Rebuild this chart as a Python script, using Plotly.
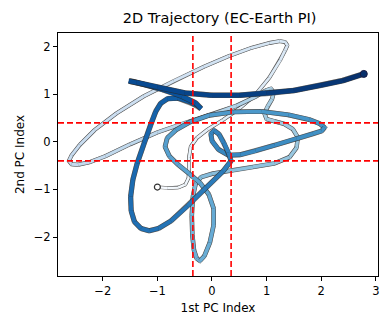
import plotly.graph_objects as go
from plotly.colors import sample_colorscale, sequential

# Trajectory in the space of the first two principal components (PC1, PC2),
# with the normalised time of each sample (0 = first year, 1 = last year).
pc1 = [
    -1.00, -0.82, -0.62, -0.49, -0.43, -0.42, -0.42, -0.39, -0.28, -0.08,
    0.20, 0.50, 0.80, 1.05, 1.25, 1.34, 1.38, 1.34, 1.24, 1.05,
    0.70, 0.30, -0.15, -0.70, -1.25, -1.75, -2.15, -2.42, -2.57, -2.62,
    -2.57, -2.45, -2.25, -1.95, -1.50, -1.00, -0.50, 0.00, 0.45, 0.80,
    0.98, 1.08, 1.13, 1.10, 1.02, 0.96, 1.00, 1.15, 1.32, 1.48,
    1.57, 1.55, 1.42, 1.15, 0.75, 0.35, 0.00, -0.20, -0.30, -0.35,
    -0.37, -0.36, -0.33, -0.28, -0.22, -0.14, -0.04, 0.03, 0.03, -0.06,
    -0.22, -0.42, -0.62, -0.78, -0.86, -0.82, -0.66, -0.40, -0.05, 0.40,
    0.90, 1.40, 1.78, 1.98, 2.06, 2.01, 1.85, 1.55, 1.15, 0.80,
    0.52, 0.30, 0.12, 0.00, -0.02, 0.04, 0.13, 0.22, 0.30, 0.35,
    0.20, -0.10, -0.45, -0.75, -0.98, -1.15, -1.30, -1.42, -1.48, -1.49,
    -1.45, -1.37, -1.24, -1.12, -1.03, -0.94, -0.81, -0.62, -0.40, -0.26,
    -0.20, -0.30, -0.55, -0.90, -1.25, -1.47, -1.52, -1.38, -1.00, -0.50,
    0.00, 0.50, 1.00, 1.50, 2.00, 2.40, 2.78,
]
pc2 = [
    -0.95, -0.97, -0.96, -0.90, -0.76, -0.55, -0.32, -0.10, 0.08, 0.26,
    0.46, 0.70, 1.00, 1.35, 1.72, 1.92, 2.03, 2.10, 2.12, 2.08,
    1.97, 1.80, 1.58, 1.28, 0.96, 0.60, 0.25, -0.06, -0.28, -0.40,
    -0.47, -0.48, -0.43, -0.30, -0.05, 0.20, 0.40, 0.58, 0.76, 0.95,
    1.08, 1.12, 1.04, 0.90, 0.75, 0.60, 0.48, 0.43, 0.38, 0.27,
    0.10, -0.12, -0.32, -0.45, -0.53, -0.60, -0.67, -0.74, -0.88, -1.15,
    -1.55, -1.95, -2.28, -2.45, -2.50, -2.40, -2.12, -1.75, -1.40, -1.10,
    -0.86, -0.66, -0.48, -0.30, -0.10, 0.08, 0.25, 0.42, 0.56, 0.63,
    0.64, 0.57, 0.47, 0.38, 0.30, 0.23, 0.17, 0.07, -0.07, -0.19,
    -0.27, -0.28, -0.16, 0.02, 0.17, 0.24, 0.16, -0.02, -0.22, -0.40,
    -0.62, -0.95, -1.35, -1.66, -1.82, -1.87, -1.82, -1.68, -1.45, -1.15,
    -0.80, -0.45, -0.02, 0.38, 0.64, 0.81, 0.91, 0.92, 0.84, 0.76,
    0.70, 0.82, 0.96, 1.10, 1.21, 1.28, 1.28, 1.25, 1.15, 1.03,
    0.98, 0.98, 1.02, 1.08, 1.19, 1.29, 1.43,
]
time_frac = [
    0.000, 0.010, 0.020, 0.030, 0.040, 0.050, 0.060, 0.070, 0.080, 0.090,
    0.100, 0.110, 0.120, 0.130, 0.140, 0.145, 0.150, 0.155, 0.158, 0.162,
    0.170, 0.180, 0.190, 0.200, 0.210, 0.220, 0.230, 0.237, 0.242, 0.245,
    0.248, 0.251, 0.255, 0.260, 0.270, 0.280, 0.290, 0.300, 0.310, 0.320,
    0.328, 0.333, 0.338, 0.342, 0.346, 0.350, 0.354, 0.358, 0.364, 0.370,
    0.378, 0.386, 0.394, 0.402, 0.412, 0.422, 0.432, 0.440, 0.448, 0.456,
    0.466, 0.476, 0.486, 0.492, 0.497, 0.502, 0.508, 0.515, 0.522, 0.530,
    0.538, 0.546, 0.552, 0.558, 0.563, 0.568, 0.574, 0.580, 0.586, 0.593,
    0.600, 0.608, 0.615, 0.620, 0.624, 0.628, 0.633, 0.640, 0.647, 0.654,
    0.660, 0.664, 0.668, 0.672, 0.676, 0.680, 0.684, 0.688, 0.693, 0.698,
    0.706, 0.716, 0.726, 0.736, 0.743, 0.748, 0.753, 0.758, 0.764, 0.770,
    0.777, 0.784, 0.792, 0.800, 0.807, 0.813, 0.820, 0.828, 0.838, 0.846,
    0.850, 0.856, 0.865, 0.875, 0.885, 0.892, 0.895, 0.900, 0.910, 0.920,
    0.930, 0.940, 0.950, 0.960, 0.970, 0.985, 1.000,
]

# Threshold lines separating the phase regions
x_thresholds = [-0.35, 0.35]
y_thresholds = [-0.4, 0.4]

fig = go.Figure()

n = len(pc1)
for i in range(n - 1):
    j = min(i + 3, n)
    xs = pc1[i:j]
    ys = pc2[i:j]
    t = 0.5 * (time_frac[i] + time_frac[i + 1])
    col = sample_colorscale(sequential.Blues, [t])[0]
    w = 2.3 + 2.2 * t
    # thin dark edge first, then the coloured stroke on top
    fig.add_trace(go.Scatter(x=xs, y=ys, mode="lines",
                             line=dict(color="rgba(40,40,40,0.55)", width=w + 1.2),
                             hoverinfo="skip", showlegend=False))
    fig.add_trace(go.Scatter(x=xs, y=ys, mode="lines",
                             line=dict(color=col, width=w),
                             hoverinfo="skip", showlegend=False))

# start and end markers
fig.add_trace(go.Scatter(x=[pc1[0]], y=[pc2[0]], mode="markers",
                         marker=dict(size=6, color="white",
                                     line=dict(color="#333333", width=1.2)),
                         showlegend=False))
fig.add_trace(go.Scatter(x=[pc1[-1]], y=[pc2[-1]], mode="markers",
                         marker=dict(size=7, color="#08306b",
                                     line=dict(color="#1a1a40", width=1)),
                         showlegend=False))

shapes = []
for xv in x_thresholds:
    shapes.append(dict(type="line", xref="x", yref="paper", x0=xv, x1=xv, y0=0, y1=1,
                       line=dict(color="red", width=1.6, dash="6px,3px"), layer="above"))
for yv in y_thresholds:
    shapes.append(dict(type="line", xref="paper", yref="y", x0=0, x1=1, y0=yv, y1=yv,
                       line=dict(color="red", width=1.6, dash="6px,3px"), layer="above"))

axis_common = dict(showline=True, linecolor="black", linewidth=1, mirror=True,
                   ticks="outside", ticklen=4, tickcolor="black", showgrid=False,
                   zeroline=False, tickfont=dict(size=11.5, color="black"))

fig.update_layout(
    width=382, height=331,
    margin=dict(l=58, r=4, t=33, b=55),
    paper_bgcolor="white", plot_bgcolor="white",
    font=dict(family="DejaVu Sans", color="black"),
    title=dict(text="2D Trajectory (EC-Earth PI)", x=0.575, xanchor="center",
               y=0.945, yanchor="middle", font=dict(size=14.5)),
    xaxis=dict(range=[-2.82, 3.04], tickvals=[-2, -1, 0, 1, 2, 3],
               title=dict(text="1st PC Index", font=dict(size=12), standoff=6),
               **axis_common),
    yaxis=dict(range=[-2.82, 2.29], tickvals=[-2, -1, 0, 1, 2],
               title=dict(text="2nd PC Index", font=dict(size=12), standoff=6),
               **axis_common),
    shapes=shapes,
)

fig.write_html("out.html")
